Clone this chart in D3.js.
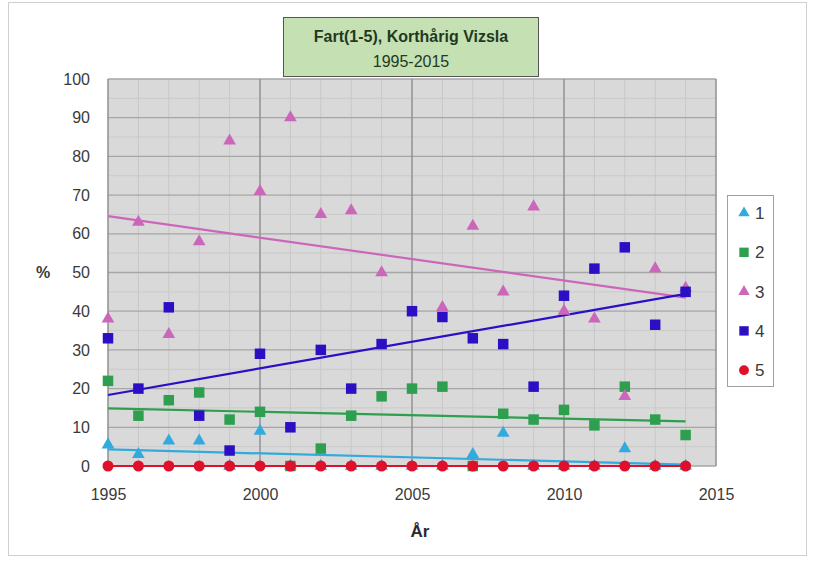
<!DOCTYPE html>
<html><head><meta charset="utf-8">
<script src="https://cdn.jsdelivr.net/npm/d3@7"></script>
<style>body{margin:0;background:#fff;}text{font-family:"Liberation Sans",Arial,sans-serif;}</style>
</head><body>
<svg id="c" width="815" height="567"></svg>
<script>
const years = d3.range(1995, 2015);
const s1 = [5.5,3,6.5,6.5,0,9,0,0,0,0,0,0,3,8.5,0,0,0,4.5,0,0];
const s2 = [22,13,17,19,12,14,0,4.5,13,18,20,20.5,0,13.5,12,14.5,10.5,20.5,12,8];
const s3 = [38,63,34,58,84,71,90,65,66,50,null,41,62,45,67,40,38,18,51,46];
const s4 = [33,20,41,13,4,29,10,30,20,31.5,40,38.5,33,31.5,20.5,44,51,56.5,36.5,45];
const s5 = [0,0,0,0,0,0,0,0,0,0,0,0,0,0,0,0,0,0,0,0];
const seriesNames = ["1","2","3","4","5"];
const seriesColors = ["#33aadd","#2e9e4f","#cc66bb","#2a0fc4","#e0102a"];
const seriesShapes = ["triangle","square","triangle","square","circle"];
const yTicks = d3.range(0, 101, 10);
const xTicks = [1995,2000,2005,2010,2015];
const titleLines = ["Fart(1-5), Korthårig Vizsla","1995-2015"];

const svg = d3.select("#c");
const L=108,R=716,T=79,B=466;
const x = d3.scaleLinear().domain([1995,2015]).range([L,R]);
const y = d3.scaleLinear().domain([0,100]).range([B,T]);

svg.append("rect").attr("x",8.5).attr("y",2.5).attr("width",798).attr("height",553).attr("fill","#fff").attr("stroke","#d0d0d0");

svg.append("rect").attr("x",L).attr("y",T).attr("width",R-L).attr("height",B-T).attr("fill","#d9d9d9");
const g = svg.append("g");
g.selectAll(".vm").data(d3.range(1995,2016)).enter().append("line")
 .attr("x1",d=>x(d)).attr("x2",d=>x(d)).attr("y1",T).attr("y2",B).attr("stroke","#c8c8c8").attr("stroke-width",1);
g.selectAll(".hm").data(d3.range(5,100,10)).enter().append("line")
 .attr("x1",L).attr("x2",R).attr("y1",d=>y(d)).attr("y2",d=>y(d)).attr("stroke","#cacaca").attr("stroke-width",1);
g.selectAll(".hM").data(yTicks).enter().append("line")
 .attr("x1",L).attr("x2",R).attr("y1",d=>y(d)).attr("y2",d=>y(d)).attr("stroke","#a6a6a6").attr("stroke-width",1.3);
g.selectAll(".vM").data(xTicks).enter().append("line")
 .attr("x1",d=>x(d)).attr("x2",d=>x(d)).attr("y1",T).attr("y2",B).attr("stroke","#8c8c8c").attr("stroke-width",1.3);

const ya = svg.append("g").attr("transform",`translate(${L},0)`).call(d3.axisLeft(y).tickValues(yTicks).tickSize(0).tickPadding(18));
ya.select(".domain").remove();
ya.selectAll("text").attr("font-size",16).attr("fill","#3a3a3a");
const xa = svg.append("g").attr("transform",`translate(0,${B})`).call(d3.axisBottom(x).tickValues(xTicks).tickFormat(d3.format("d")).tickSize(0).tickPadding(23));
xa.select(".domain").remove();
xa.selectAll("text").attr("font-size",16).attr("fill","#3a3a3a");

svg.append("text").attr("x",36).attr("y",278).attr("font-size",16).attr("font-weight","bold").attr("fill","#3a3a3a").text("%");
svg.append("text").attr("x",420).attr("y",537).attr("text-anchor","middle").attr("font-size",17).attr("font-weight","bold").attr("fill","#2a2a2a").text("År");

const all = [s1,s2,s3,s4,s5];
all.forEach((s,i)=>{
  const pts = years.map((yr,j)=>[yr,s[j]]).filter(p=>p[1]!=null);
  const mx=d3.mean(pts,p=>p[0]), my=d3.mean(pts,p=>p[1]);
  const sxy=d3.sum(pts,p=>(p[0]-mx)*(p[1]-my)), sxx=d3.sum(pts,p=>(p[0]-mx)**2);
  const b=sxy/sxx, a=my-b*mx;
  svg.append("line").attr("x1",x(1995)).attr("x2",x(2014)).attr("y1",y(a+b*1995)).attr("y2",y(a+b*2014))
    .attr("stroke",seriesColors[i]).attr("stroke-width",2.2);
});
const sym = {triangle:d3.symbolTriangle, square:d3.symbolSquare, circle:d3.symbolCircle};
const sizes = {triangle:70, square:110, circle:95};
all.forEach((s,i)=>{
  svg.append("g").selectAll("path").data(years.map((yr,j)=>[yr,s[j]]).filter(p=>p[1]!=null)).enter().append("path")
   .attr("d",d3.symbol().type(sym[seriesShapes[i]]).size(sizes[seriesShapes[i]]))
   .attr("transform",d=>`translate(${x(d[0])},${y(d[1])})`).attr("fill",seriesColors[i]);
});

svg.append("rect").attr("x",727.5).attr("y",195.5).attr("width",46).attr("height",191).attr("fill","#fff").attr("stroke","#a0a0a0");
seriesNames.forEach((nm,i)=>{
  const cy = 213+i*39.3;
  svg.append("path").attr("d",d3.symbol().type(sym[seriesShapes[i]]).size(sizes[seriesShapes[i]]*0.8)).attr("transform",`translate(744,${cy})`).attr("fill",seriesColors[i]);
  svg.append("text").attr("x",755).attr("y",cy+6).attr("font-size",17).attr("fill","#3a3a3a").text(nm);
});

svg.append("rect").attr("x",283.5).attr("y",17.5).attr("width",255).attr("height",59).attr("fill","#c5e0b3").attr("stroke","#555");
svg.append("text").attr("x",411).attr("y",42).attr("text-anchor","middle").attr("font-size",16).attr("font-weight","bold").attr("fill","#1f3a1f").text(titleLines[0]);
svg.append("text").attr("x",411).attr("y",67).attr("text-anchor","middle").attr("font-size",16).attr("fill","#1f3a1f").text(titleLines[1]);
</script>
</body></html>
